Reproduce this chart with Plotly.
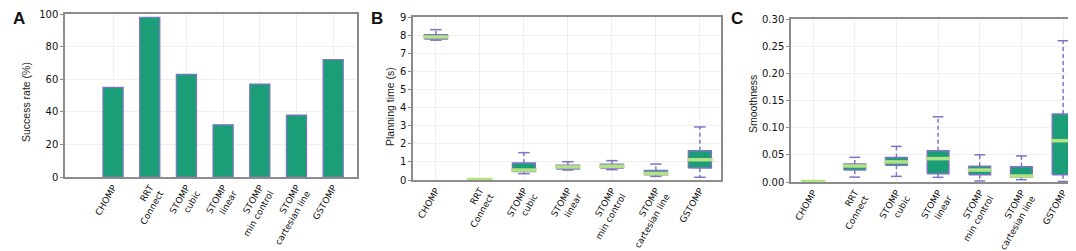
import plotly.graph_objects as go

# ---------------- data ----------------
methods = ["CHOMP", "RRT<br>Connect", "STOMP<br>cubic", "STOMP<br>linear",
           "STOMP<br>min control", "STOMP<br>cartesian line", "GSTOMP"]

success_rate = [55, 98, 63, 32, 57, 38, 72]

# Planning time (s): box statistics per method
pt_low = [7.72, 0.01, 0.35, 0.55, 0.57, 0.20, 0.15]
pt_q1 = [7.78, 0.015, 0.47, 0.61, 0.66, 0.29, 0.66]
pt_med = [7.90, 0.03, 0.55, 0.72, 0.76, 0.36, 1.12]
pt_q3 = [8.02, 0.04, 0.94, 0.81, 0.87, 0.52, 1.62]
pt_up = [8.30, 0.05, 1.51, 1.01, 1.07, 0.88, 2.93]

# Smoothness: box statistics per method
sm_low = [0.0005, 0.009, 0.0104, 0.0086, 0.002, 0.0043, 0.001]
sm_q1 = [0.0008, 0.022, 0.031, 0.0153, 0.0135, 0.0090, 0.0135]
sm_med = [0.001, 0.0295, 0.037, 0.043, 0.022, 0.011, 0.076]
sm_q3 = [0.0012, 0.033, 0.045, 0.0577, 0.0288, 0.028, 0.125]
sm_up = [0.0015, 0.0454, 0.0656, 0.120, 0.050, 0.048, 0.260]

# ---------------- style ----------------
GREEN = "#1b9e77"
PURPLE = "#7d75c4"
LIGHT = "#b5e384"
AXIS = "#8c8c8c"
GRID = "#efefef"
YTICKFONT = dict(family="DejaVu Sans", size=10, color="#111111")
XTICKFONT = dict(family="DejaVu Sans", size=9, color="#111111")

pos = list(range(len(methods)))
fig = go.Figure()

# Panel A bars
fig.add_trace(go.Bar(x=pos, y=success_rate, width=0.55, marker=dict(color=GREEN,
              line=dict(color=PURPLE, width=1.2)), xaxis="x", yaxis="y",
              showlegend=False))


def add_boxes(low, q1, med, q3, up, xa, ya):
    hw, cw, mw = 0.26, 0.13, 0.29
    wx, wy, bx, by, cx, cy, mx, my = [], [], [], [], [], [], [], []
    for i in pos:
        wx += [i, i, None, i, i, None]
        wy += [q3[i], up[i], None, q1[i], low[i], None]
        bx += [i - hw, i + hw, i + hw, i - hw, i - hw, None]
        by += [q1[i], q1[i], q3[i], q3[i], q1[i], None]
        cx += [i - cw, i + cw, None, i - cw, i + cw, None]
        cy += [up[i], up[i], None, low[i], low[i], None]
        mx += [i - mw, i + mw, None]
        my += [med[i], med[i], None]
    common = dict(xaxis=xa, yaxis=ya, showlegend=False, hoverinfo="skip",
                  mode="lines")
    fig.add_trace(go.Scatter(x=wx, y=wy, line=dict(color=PURPLE, width=1.5,
                  dash="4px,3px"), **common))
    fig.add_trace(go.Scatter(x=cx, y=cy, line=dict(color=PURPLE, width=1.5),
                  **common))
    fig.add_trace(go.Scatter(x=bx, y=by, fill="toself", fillcolor=GREEN,
                  line=dict(color=PURPLE, width=1.5), **common))
    fig.add_trace(go.Scatter(x=mx, y=my, line=dict(color=LIGHT, width=3.5),
                  **common))


add_boxes(pt_low, pt_q1, pt_med, pt_q3, pt_up, "x2", "y2")
add_boxes(sm_low, sm_q1, sm_med, sm_q3, sm_up, "x3", "y3")

W, H = 1076, 251


def xd(a, b):
    return [a / W, b / W]


def yd(top, bottom):
    return [(H - bottom) / H, (H - top) / H]


xcommon = dict(tickmode="array", tickvals=pos, ticktext=methods, tickangle=-60,
               tickfont=XTICKFONT, showgrid=True, gridcolor=GRID, gridwidth=1,
               showline=True, linecolor=AXIS, linewidth=1.5, mirror=True,
               ticks="", zeroline=False, automargin=False)
ycommon = dict(tickfont=YTICKFONT, showgrid=True, gridcolor=GRID, gridwidth=1,
               showline=True, linecolor=AXIS, linewidth=1.5, mirror=True,
               ticks="outside", ticklen=3, tickcolor=AXIS, zeroline=False,
               automargin=False)

fig.update_layout(
    width=W, height=H, margin=dict(l=0, r=0, t=0, b=0, autoexpand=False),
    plot_bgcolor="white", paper_bgcolor="white",
    xaxis=dict(domain=xd(57, 349), range=[-1.31, 6.65], anchor="y", **xcommon),
    yaxis=dict(domain=yd(6, 169), range=[0, 100], dtick=20, anchor="x", **ycommon),
    xaxis2=dict(domain=xd(405, 713), range=[-0.52, 6.48], anchor="y2", **xcommon),
    yaxis2=dict(domain=yd(9, 172), range=[0, 9], dtick=1, anchor="x2", **ycommon),
    xaxis3=dict(domain=xd(783, 1073), range=[-0.53, 6.43], anchor="y3", **xcommon),
    yaxis3=dict(domain=yd(11, 174), range=[0, 0.30], dtick=0.05, tickformat=".2f",
                anchor="x3", **ycommon),
)

# panel letters
for letter, x in [("A", 3), ("B", 361), ("C", 721)]:
    fig.add_annotation(text="<b>%s</b>" % letter, x=x / W, y=1 - 11 / H,
                       xref="paper", yref="paper", xanchor="left", yanchor="middle",
                       showarrow=False, font=dict(family="Liberation Sans", size=17,
                                                  color="#111111"))

# axis titles
for title, x, y in [("Success rate (%)", 18, 94), ("Planning time (s)", 382, 99),
                    ("Smoothness", 745, 96)]:
    fig.add_annotation(text=title, x=x / W, y=1 - y / H, xref="paper", yref="paper",
                       xanchor="center", yanchor="middle", textangle=-90,
                       showarrow=False, font=dict(family="Liberation Sans", size=10.5,
                                                  color="#222222"))

fig.write_html("out.html")
